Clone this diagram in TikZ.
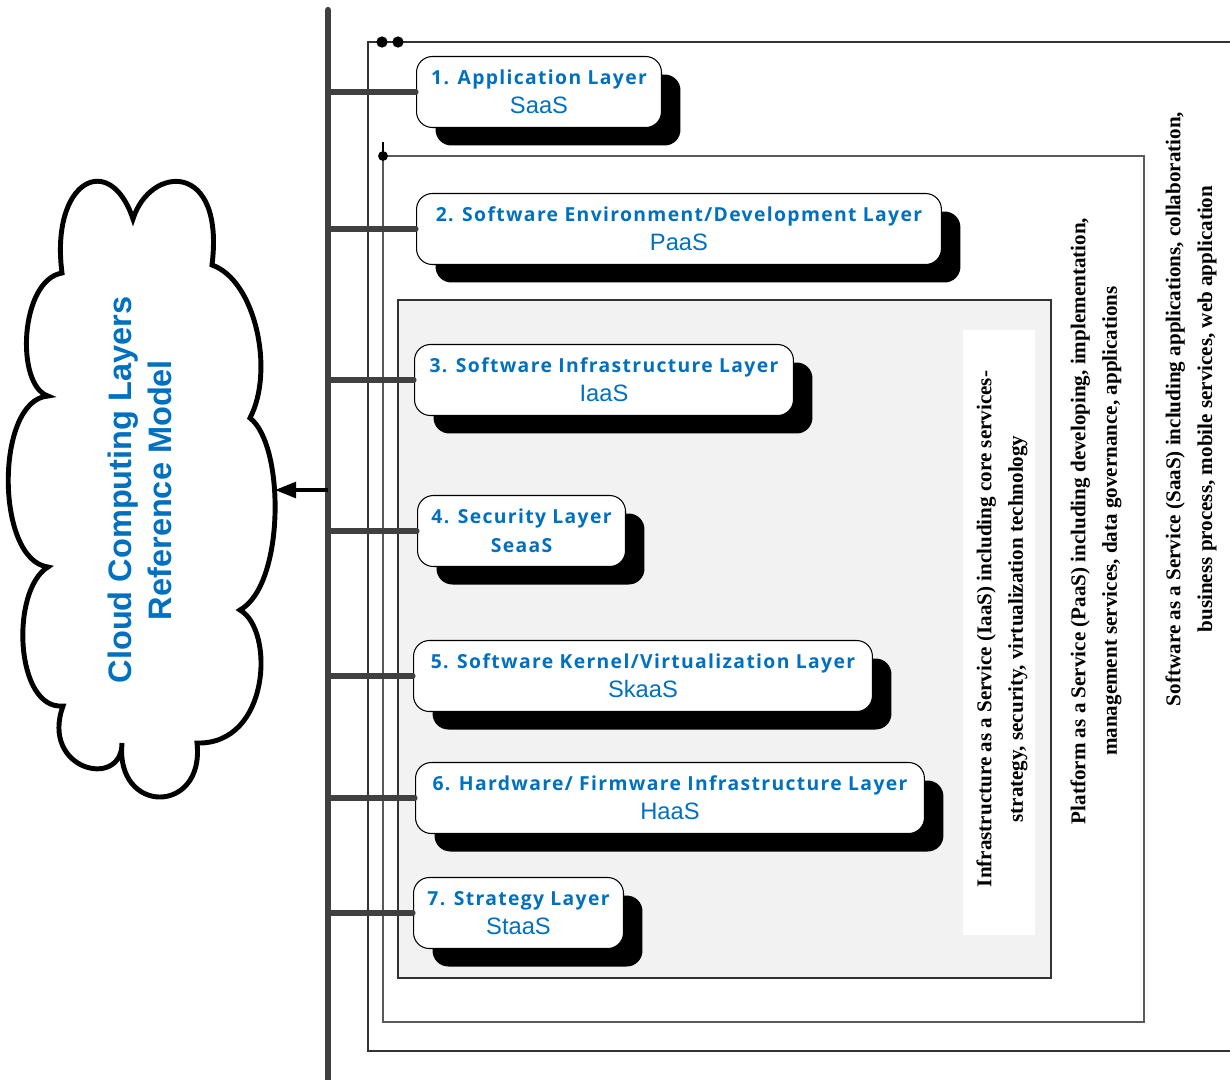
\documentclass[tikz,border=0pt]{standalone}
\usepackage{fontspec}
\usetikzlibrary{shadows,arrows.meta}
\setmainfont{Liberation Serif}
\newfontfamily\layerfont[LetterSpace=7]{Open Sans}
\newfontfamily\servicefont{Liberation Sans}
\newcommand\servicetext[1]{{\fontsize{13.5}{16.4}\selectfont\servicefont\mdseries #1}}
\definecolor{layerblue}{HTML}{0070C0}
\definecolor{bargray}{HTML}{404040}
\definecolor{panelgray}{HTML}{F2F2F2}

\begin{document}
\begin{tikzpicture}[x=0.02cm, y=-0.02cm,
  layerbox/.style={draw=black, line width=0.6pt, fill=white, rounded corners=9pt,
    minimum height=1.42cm, inner sep=0pt, anchor=west, align=center,
    text=layerblue, font=\fontsize{11}{16.4}\selectfont\layerfont\bfseries,
    drop shadow={shadow xshift=0.38cm, shadow yshift=-0.36cm, fill=black, opacity=1}},
  link/.style={draw=bargray, line width=2.9pt, line cap=round},
  note/.style={font=\fontsize{12}{18}\selectfont\bfseries, align=center, rotate=90, inner sep=0pt},
  frame/.style={draw=black!80, line width=0.7pt}]
  \useasboundingbox (0,0) rectangle (1230,1079);
  % draw nested service frames
  \draw[frame] (1240,42) -| (368,1051) -- (1240,1051);
  \draw[frame, draw=black!65] (383,156) rectangle (1144,1022);
  \draw[frame, fill=panelgray] (398,300) rectangle (1051,978);
  \fill[white] (963,330) rectangle (1035,935);
  % draw black dots on frame corners
  \node[circle, fill=black, inner sep=0.08cm] (dot_saas_a) at (382,42) {};
  \node[circle, fill=black, inner sep=0.08cm] (dot_saas_b) at (398,42) {};
  \node[circle, fill=black, inner sep=0.07cm] (dot_paas) at (383,156) {};
  \draw[line width=0.8pt] (dot_paas.center) -- ++(0,-14);
  % draw service notes
  \node[note] (note_iaas) at (1002,629) {Infrastructure as a Service (IaaS) including core services-\\strategy, security, virtualization technology};
  \node[note] (note_paas) at (1096,521) {Platform as a Service (PaaS) including developing, implementation,\\management services, data governance, applications};
  \node[note] (note_saas) at (1191,409) {Software as a Service (SaaS) including applications, collaboration,\\business process, mobile services, web application};
  % draw layer boxes
  \node[layerbox, minimum width=4.9cm] (layer_app) at (416,92) {1. Application Layer\\\servicetext{SaaS}};
  \node[layerbox, minimum width=10.5cm] (layer_env) at (416,229) {2. Software Environment/Development Layer\\\servicetext{PaaS}};
  \node[layerbox, minimum width=7.58cm] (layer_infra) at (414,380) {3. Software Infrastructure Layer\\\servicetext{IaaS}};
  \node[layerbox, minimum width=4.16cm] (layer_sec) at (417,531) {4. Security Layer\\SeaaS};
  \node[layerbox, minimum width=9.18cm] (layer_kernel) at (413,676) {5. Software Kernel/Virtualization Layer\\\servicetext{SkaaS}};
  \node[layerbox, minimum width=10.18cm] (layer_hw) at (415,798) {6. Hardware/ Firmware Infrastructure Layer\\\servicetext{HaaS}};
  \node[layerbox, minimum width=4.2cm] (layer_strat) at (413,913) {7. Strategy Layer\\\servicetext{StaaS}};
  % draw bus bar and its links
  \coordinate (bartop) at (328,10);
  \coordinate (barbot) at (328,1090);
  \foreach \n in {layer_app,layer_env,layer_infra,layer_sec,layer_kernel,layer_hw,layer_strat}
    \draw[link] (\n.west -| bartop) -- (\n.west);
  \draw[draw=bargray, line width=3.6pt, line cap=round] (bartop) -- (barbot);
  % draw cloud
  \draw[line width=2.8pt, fill=white] (62,273)
    .. controls (50,180) and (110,150) .. (133,219)
    .. controls (150,165) and (225,160) .. (212,265)
    .. controls (255,280) and (275,370) .. (250,418)
    .. controls (285,445) and (285,585) .. (240,610)
    .. controls (275,630) and (270,745) .. (197,743)
    .. controls (205,815) and (115,815) .. (122,743)
    .. controls (122,790) and (40,770) .. (63,706)
    .. controls (15,710) and (10,590) .. (48,567)
    .. controls (-5,560) and (-5,400) .. (48,396)
    .. controls (15,385) and (20,280) .. cycle;
  \node[rotate=90, align=center, text=layerblue, inner sep=0pt,
    font=\fontsize{18.5}{22.7}\selectfont\servicefont\bfseries] (cloud_label) at (140,490) {Cloud Computing Layers\\Reference Model};
  \coordinate (cloud_east) at (275,490);
  \draw[line width=1.9pt, -{Triangle[length=12pt, width=9pt]}] (cloud_east -| bartop) -- (cloud_east);
\end{tikzpicture}
\end{document}
